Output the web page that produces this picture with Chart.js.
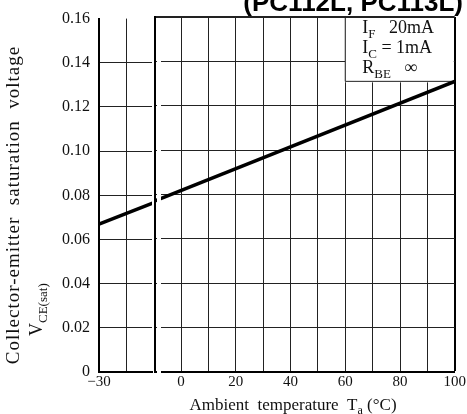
<!DOCTYPE html>
<html>
<head>
<meta charset="utf-8">
<script src="https://cdn.jsdelivr.net/npm/chart.js@4"></script>
<style>
  body { margin: 0; background: #fff; }
  #wrap { position: relative; width: 467px; height: 414px; }
  canvas { position: absolute; left: 0; top: 0; }
</style>
</head>
<body>
<div id="wrap">
  <canvas id="left" width="467" height="414"></canvas>
  <canvas id="right" width="467" height="414"></canvas>
</div>
<script>
// VCE(sat) vs ambient temperature, straight line
const tempC = [-30, 100];
const vceSat = [0.067, 0.131];

const yTicks = [0, 0.02, 0.04, 0.06, 0.08, 0.10, 0.12, 0.14, 0.16];
const leftXTicks = [-30, -20];
const rightXTicks = [0, 10, 20, 30, 40, 50, 60, 70, 80, 90, 100];
const rightXLabels = ['0', '', '20', '', '40', '', '60', '', '80', '', '100'];
const conditions = [['I', 'F', '   20mA'], ['I', 'C', ' = 1mA'], ['R', 'BE', '   \u221E']];

const serif = '"Liberation Serif", "DejaVu Serif", serif';
const points = tempC.map((t, i) => ({x: t, y: vceSat[i]}));

function dataset() {
    return [{
        data: points,
        borderColor: '#000',
        borderWidth: 3.5,
        pointRadius: 0,
        tension: 0
    }];
}

function yLabel(v) {
    if (v === 0) return '0';
    return v.toFixed(2);
}

// text with a subscript, returns end x
function subText(ctx, main, sub, rest, x, y, size) {
    ctx.font = size + 'px ' + serif;
    ctx.fillText(main, x, y);
    x += ctx.measureText(main).width;
    ctx.font = Math.round(size * 0.7) + 'px ' + serif;
    ctx.fillText(sub, x, y + size * 0.25);
    x += ctx.measureText(sub).width;
    ctx.font = size + 'px ' + serif;
    ctx.fillText(rest, x, y);
    return x + ctx.measureText(rest).width;
}

const leftText = {
    id: 'leftText',
    afterDraw(chart) {
        const ctx = chart.ctx;
        ctx.save();
        ctx.fillStyle = '#111';
        ctx.textBaseline = 'alphabetic';
        // y axis title
        ctx.translate(13, 205);
        ctx.rotate(-Math.PI / 2);
        ctx.textAlign = 'center';
        ctx.font = '19px ' + serif;
        ctx.letterSpacing = '1px';
        ctx.fillText('Collector-emitter  saturation  voltage', 0, 6);
        ctx.restore();

        ctx.save();
        ctx.fillStyle = '#111';
        ctx.translate(42, 336);
        ctx.rotate(-Math.PI / 2);
        ctx.textAlign = 'left';
        subText(ctx, 'V', 'CE(sat)', '', 0, 0, 18);
        ctx.restore();
    }
};

const rightText = {
    id: 'rightText',
    beforeDatasetsDraw(chart) {
        const ctx = chart.ctx;
        const xs = chart.scales.x, ys = chart.scales.y;
        const x0 = xs.getPixelForValue(60), x1 = xs.getPixelForValue(100);
        const y0 = ys.getPixelForValue(0.16), y1 = ys.getPixelForValue(0.131);
        ctx.save();
        ctx.fillStyle = '#fff';
        ctx.fillRect(x0, y0 + 1, x1 - x0 - 1, y1 - y0);
        ctx.strokeStyle = '#222';
        ctx.lineWidth = 1;
        ctx.beginPath();
        ctx.moveTo(x0, y0);
        ctx.lineTo(x0, y1);
        ctx.lineTo(x1, y1);
        ctx.stroke();
        ctx.restore();
    },
    afterDraw(chart) {
        const ctx = chart.ctx;
        const xs = chart.scales.x;
        const area = chart.chartArea;
        ctx.save();
        // small gap after the axis break
        ctx.fillStyle = '#fff';
        ctx.fillRect(area.left + 2, area.top + 1, 4, area.bottom - area.top + 2);

        ctx.fillStyle = '#111';
        ctx.textAlign = 'left';
        ctx.textBaseline = 'alphabetic';
        const tx = xs.getPixelForValue(60) + 17;
        conditions.forEach((c, i) => {
            subText(ctx, c[0], c[1], c[2], tx, 33 + i * 20, 18);
        });

        // x axis title, centred
        ctx.font = '17px ' + serif;
        const a = 'Ambient  temperature  T', b = ' (\u00B0C)';
        let w = ctx.measureText(a).width + ctx.measureText(b).width;
        ctx.font = '12px ' + serif;
        w += ctx.measureText('a').width;
        subText(ctx, a, 'a', b, 293 - w / 2, 410, 17);

        // series heading, cut at the top edge
        ctx.font = 'bold 26px "Liberation Sans", Arial, sans-serif';
        ctx.textAlign = 'right';
        ctx.fillStyle = '#000';
        ctx.fillText('(PC112L, PC113L)', 463, 11);
        ctx.restore();
    }
};

function gridColor(hideTop) {
    return c => {
        if (hideTop && c.tick && Math.abs(c.tick.value - 0.16) < 1e-9) return 'rgba(0,0,0,0)';
        return '#222';
    };
}

new Chart(document.getElementById('left'), {
    type: 'line',
    data: {datasets: dataset()},
    plugins: [leftText],
    options: {
        responsive: false,
        animation: false,
        devicePixelRatio: 1,
        layout: {padding: {left: 0, right: 467 - 152, top: 17, bottom: 0}},
        plugins: {legend: {display: false}, tooltip: {enabled: false}},
        scales: {
            x: {
                type: 'linear',
                min: -30,
                max: -11,
                afterBuildTicks: s => { s.ticks = leftXTicks.map(v => ({value: v})); },
                afterFit: s => { s.height = 42; },
                ticks: {
                    autoSkip: false,
                    maxRotation: 0,
                    padding: 1,
                    color: '#111',
                    font: {family: serif, size: 15},
                    callback: v => (v === -30 ? '\u221230' : '')
                },
                grid: {color: '#222', lineWidth: 1, drawTicks: false},
                border: {display: true, color: '#000', width: 2}
            },
            y: {
                min: 0,
                max: 0.16,
                afterBuildTicks: s => { s.ticks = yTicks.map(v => ({value: v})); },
                afterFit: s => { s.width = 99; },
                ticks: {
                    padding: 9,
                    color: '#111',
                    font: {family: serif, size: 16},
                    callback: yLabel
                },
                grid: {color: gridColor(true), lineWidth: 1, drawTicks: false},
                border: {display: true, color: '#000', width: 2}
            }
        }
    }
});

new Chart(document.getElementById('right'), {
    type: 'line',
    data: {datasets: dataset()},
    plugins: [rightText],
    options: {
        responsive: false,
        animation: false,
        devicePixelRatio: 1,
        layout: {padding: {left: 155, right: 467 - 456, top: 17, bottom: 0}},
        plugins: {legend: {display: false}, tooltip: {enabled: false}},
        scales: {
            x: {
                type: 'linear',
                min: -9.5,
                max: 100,
                afterBuildTicks: s => { s.ticks = rightXTicks.map(v => ({value: v})); },
                afterFit: s => { s.height = 42; },
                ticks: {
                    autoSkip: false,
                    maxRotation: 0,
                    padding: 1,
                    color: '#111',
                    font: {family: serif, size: 15},
                    callback: (v, i) => rightXLabels[i]
                },
                grid: {
                    color: c => (c.tick && c.tick.value === 100 ? '#000' : '#222'),
                    lineWidth: c => (c.tick && c.tick.value === 100 ? 2 : 1),
                    drawTicks: false
                },
                border: {display: true, color: '#000', width: 2}
            },
            y: {
                min: 0,
                max: 0.16,
                afterBuildTicks: s => { s.ticks = yTicks.map(v => ({value: v})); },
                afterFit: s => { s.width = 0; },
                ticks: {display: false},
                grid: {
                    color: '#222',
                    lineWidth: c => (c.tick && Math.abs(c.tick.value - 0.16) < 1e-9 ? 2 : 1),
                    drawTicks: false
                },
                border: {display: true, color: '#000', width: 2}
            }
        }
    }
});
</script>
</body>
</html>
